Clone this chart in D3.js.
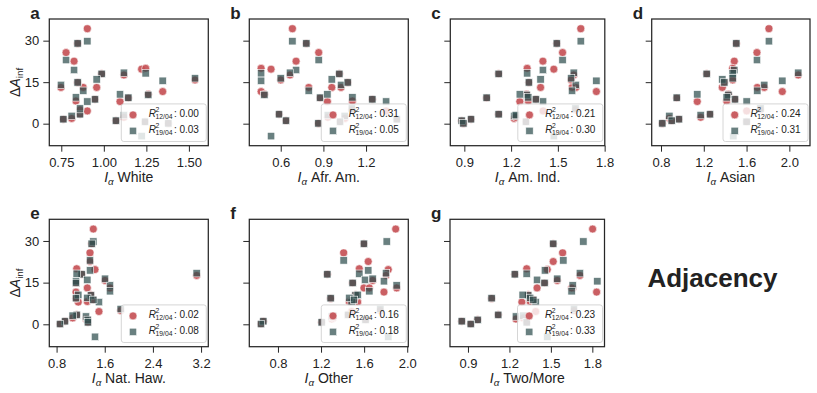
<!DOCTYPE html>
<html><head><meta charset="utf-8">
<script src="https://cdn.jsdelivr.net/npm/d3@7"></script>
<style>
body{margin:0;background:#fff}
svg{display:block}
text{font-family:"Liberation Sans",Arial,sans-serif;fill:#222}
</style>
</head><body>
<svg id="c" width="817" height="393"></svg>
<script>
// ---- data: one entry per place (same order in every array) ----
const y2012 = [34.3, 29.0, 25.7, 22.6, 19.7, 18.0, 17.6, 20.0, 13.1, 13.1, 13.1, 11.6, 10.6, 8.0, 4.6, 8.2, 1.9, 15.8, 9.3, 3.4, 5.0, 1.6, 14.9, 8.8, 1.1, 2.3, 0.7, 0.1];
const y2019 = [29.8, 29.0, 23.0, 19.4, -4.5, 18.0, 18.4, 18.2, 14.0, 16.0, 11.9, 15.5, 10.4, 10.6, 8.0, 9.5, 2.8, 16.4, 9.4, 3.4, 5.5, 1.6, 14.9, 8.8, 1.1, 3.1, 0.7, 0.1];

const xWhite  = [0.903, 0.846, 0.778, 0.825, 1.222, 0.987, 1.118, 1.246, 0.748, 0.958, 0.879, 1.346, 1.261, 1.095, 0.903, 0.836, 0.811, 1.536, 1.144, 0.860, 0.860, 0.762, 0.846, 0.948, 1.071, 1.118, 1.242, 1.379];
const xAfrAm  = [0.682, 0.780, 0.867, 0.708, 0.532, 1.012, 0.665, 0.462, 1.024, 0.959, 0.797, 0.462, 0.485, 0.928, 1.341, 1.104, 1.050, 0.600, 0.876, 0.588, 1.100, 1.416, 1.071, 1.244, 0.637, 0.931, 1.017, 0.865];
const xAmInd  = [1.647, 1.493, 1.530, 1.404, 1.474, 1.120, 1.602, 1.303, 1.615, 1.389, 1.591, 1.747, 1.300, 1.256, 1.405, 1.310, 1.220, 1.585, 1.043, 1.120, 1.613, 0.943, 1.314, 1.359, 0.883, 1.230, 1.295, 0.894];
const xAsian  = [1.809, 1.504, 1.697, 1.485, 1.476, 1.227, 2.083, 1.470, 1.765, 1.373, 1.700, 1.934, 1.430, 1.139, 1.601, 1.414, 0.878, 1.470, 0.947, 1.258, 1.730, 0.968, 1.392, 1.492, 0.900, 1.171, 1.600, 0.812];
const xNatHaw = [1.410, 1.383, 1.355, 1.355, 1.438, 1.217, 3.127, 1.134, 1.687, 1.310, 1.687, 1.122, 1.371, 1.160, 1.504, 1.310, 1.288, 1.604, 1.122, 1.134, 1.865, 1.316, 1.122, 1.410, 0.940, 1.067, 1.320, 0.856];
const xOther2012 = [1.893, 1.598, 1.410, 1.638, 1.824, 1.258, 1.803, 1.555, 1.902, 1.598, 1.648, 1.784, 1.520, 1.540, 1.484, 1.462, 1.300, 1.679, 1.289, 1.450, 1.750, 1.613, 1.493, 1.506, 0.664, 1.313, 1.206, 0.642];
const xOther2019 = [1.810, 1.598, 1.410, 1.638, 1.824, 1.258, 1.803, 1.555, 1.902, 1.608, 1.648, 1.784, 1.520, 1.540, 1.484, 1.462, 1.300, 1.679, 1.289, 1.450, 1.750, 1.613, 1.493, 1.506, 0.664, 1.313, 1.206, 0.642];
const xTwo2012 = [1.802, 1.517, 1.585, 1.517, 1.474, 1.239, 1.710, 1.325, 1.658, 1.400, 1.650, 1.831, 1.336, 1.290, 1.390, 1.350, 1.247, 1.546, 1.071, 1.119, 1.667, 0.970, 1.454, 1.373, 0.855, 1.300, 1.325, 0.920];
const xTwo2019 = [1.735, 1.517, 1.590, 1.457, 1.474, 1.239, 1.710, 1.325, 1.658, 1.400, 1.650, 1.836, 1.336, 1.296, 1.390, 1.350, 1.247, 1.546, 1.071, 1.119, 1.667, 0.970, 1.454, 1.373, 0.855, 1.300, 1.325, 0.920];

const panelLetters = ["a", "b", "c", "d", "e", "f", "g"];
const groupNames = ["White", "Afr. Am.", "Am. Ind.", "Asian", "Nat. Haw.", "Other", "Two/More"];
const r2_2012 = [0.00, 0.31, 0.21, 0.24, 0.02, 0.16, 0.23];
const r2_2019 = [0.03, 0.05, 0.30, 0.31, 0.08, 0.18, 0.33];
const yTicks = [0, 15, 30];
const xTicksWhite = [0.75, 1.00, 1.25, 1.50];
const xTicksAfrAm = [0.6, 0.9, 1.2];
const xTicksAmInd = [0.9, 1.2, 1.5, 1.8];
const xTicksAsian = [0.8, 1.2, 1.6, 2.0];
const xTicksNatHaw = [0.8, 1.6, 2.4, 3.2];
const xTicksOther = [0.8, 1.2, 1.6, 2.0];
const xTicksTwo = [0.9, 1.2, 1.5, 1.8];

// ---- layout ----
const series12 = [xWhite, xAfrAm, xAmInd, xAsian, xNatHaw, xOther2012, xTwo2012];
const series19 = [xWhite, xAfrAm, xAmInd, xAsian, xNatHaw, xOther2019, xTwo2019];
const tickSets = [xTicksWhite, xTicksAfrAm, xTicksAmInd, xTicksAsian, xTicksNatHaw, xTicksOther, xTicksTwo];
const tickFmts = [".2f", ".1f", ".1f", ".1f", ".1f", ".1f", ".1f"];
const layout = [
  {left: 49.3, right: 208.3, row: 0, dom: [0.6795, 1.614]},
  {left: 249.3, right: 408.3, row: 0, dom: [0.379, 1.497]},
  {left: 450.3, right: 604.8, row: 0, dom: [0.81, 1.801]},
  {left: 651.7, right: 810.0, row: 0, dom: [0.713, 2.193]},
  {left: 49.3, right: 208.3, row: 1, dom: [0.679, 3.32]},
  {left: 249.3, right: 408.3, row: 1, dom: [0.534, 2.01]},
  {left: 450.0, right: 604.5, row: 1, dom: [0.770, 1.888]}
];
const rows = [
  {top: 19, bottom: 145.7, dom: [-7.96, 37.83]},
  {top: 219.3, bottom: 346.7, dom: [-8.06, 37.8]}
];
const RED = "#c44e52", SQ = "#2f4f4f", INK = "#262626";

const svg = d3.select("#c");
const defs = svg.append("defs");

function drawR2(g, x, y, sub, val) {
  g.append("text").attr("x", x).attr("y", y).attr("font-size", 10).attr("font-style", "italic").text("R");
  g.append("text").attr("x", x + 6.8).attr("y", y - 4.6).attr("font-size", 6.8).text("2");
  g.append("text").attr("x", x + 6.8).attr("y", y + 2.6).attr("font-size", 6.8).text(sub);
  g.append("text").attr("x", x + 25.2).attr("y", y).attr("font-size", 10).text(": " + d3.format(".2f")(val));
}

layout.forEach((L, i) => {
  const R = rows[L.row];
  const x = d3.scaleLinear().domain(L.dom).range([L.left, L.right]);
  const y = d3.scaleLinear().domain(R.dom).range([R.bottom, R.top]);
  const g = svg.append("g");

  defs.append("clipPath").attr("id", "clip" + i)
    .append("rect").attr("x", L.left).attr("y", R.top)
    .attr("width", L.right - L.left).attr("height", R.bottom - R.top);

  const pts = g.append("g").attr("clip-path", `url(#clip${i})`);
  const idx = d3.range(y2012.length);
  const xs12 = series12[i], xs19 = series19[i];
  pts.selectAll("circle").data(idx).join("circle")
    .attr("cx", j => x(xs12[j])).attr("cy", j => y(y2012[j])).attr("r", 4)
    .attr("fill", RED).attr("fill-opacity", 0.9)
    .attr("stroke", "#fff").attr("stroke-width", 0.6);
  const s = 7.4;
  pts.selectAll("rect").data(idx).join("rect")
    .attr("x", j => x(xs19[j]) - s / 2).attr("y", j => y(y2019[j]) - s / 2)
    .attr("width", s).attr("height", s)
    .attr("fill", SQ).attr("fill-opacity", 0.72)
    .attr("stroke", "#fff").attr("stroke-width", 0.6);

  // frame
  g.append("rect").attr("x", L.left).attr("y", R.top)
    .attr("width", L.right - L.left).attr("height", R.bottom - R.top)
    .attr("fill", "none").attr("stroke", INK).attr("stroke-width", 1.25);

  // x axis
  const xa = g.append("g").attr("transform", `translate(0,${R.bottom})`)
    .call(d3.axisBottom(x).tickValues(tickSets[i]).tickSize(6).tickPadding(5.8).tickFormat(d3.format(tickFmts[i])));
  xa.select(".domain").remove();
  xa.selectAll("line").attr("stroke", INK).attr("stroke-width", 1);
  xa.selectAll("text").attr("font-size", 13).attr("font-family", "Liberation Sans, Arial, sans-serif").attr("fill", "#222");

  // y axis
  const ya = g.append("g").attr("transform", `translate(${L.left},0)`)
    .call(d3.axisLeft(y).tickValues(yTicks).tickSize(6).tickPadding(4)
      .tickFormat(L.left < 100 ? d3.format("d") : () => ""));
  ya.select(".domain").remove();
  ya.selectAll("line").attr("stroke", INK).attr("stroke-width", 1);
  ya.selectAll("text").attr("font-size", 13).attr("font-family", "Liberation Sans, Arial, sans-serif").attr("fill", "#222");

  // x label
  const cx = (L.left + L.right) / 2;
  const xl = g.append("text").attr("x", cx).attr("y", R.bottom + 36.3)
    .attr("text-anchor", "middle").attr("font-size", 14);
  xl.append("tspan").attr("font-style", "italic").text("I");
  xl.append("tspan").attr("font-style", "italic").attr("font-size", 9.8).attr("dy", 3).text("α");
  xl.append("tspan").attr("dy", -3).text(" " + groupNames[i]);

  // y label
  if (L.left < 100) {
    const cy = (R.top + R.bottom) / 2;
    const yl = g.append("text").attr("transform", `translate(20,${cy}) rotate(-90)`)
      .attr("text-anchor", "middle").attr("font-size", 14);
    yl.append("tspan").text("Δ");
    yl.append("tspan").attr("font-style", "italic").text("A");
    yl.append("tspan").attr("font-size", 9.8).attr("dy", 3).text("inf");
  }

  // panel letter
  g.append("text").attr("x", L.left - 19).attr("y", R.top - 0.5)
    .attr("font-size", 17).attr("font-weight", "bold").text(panelLetters[i]);

  // legend
  const bw = 85, bh = 37.6;
  const bx = L.right - 2 - bw, by = R.bottom - 4.2 - bh;
  const lg = g.append("g");
  lg.append("rect").attr("x", bx).attr("y", by).attr("width", bw).attr("height", bh)
    .attr("rx", 2.5).attr("fill", "#fff").attr("fill-opacity", 0.8)
    .attr("stroke", "#cccccc").attr("stroke-width", 0.8);
  lg.append("circle").attr("cx", bx + 11.7).attr("cy", by + 11).attr("r", 4)
    .attr("fill", RED).attr("fill-opacity", 0.9).attr("stroke", "#fff").attr("stroke-width", 0.6);
  lg.append("rect").attr("x", bx + 11.7 - s / 2).attr("y", by + 27 - s / 2).attr("width", s).attr("height", s)
    .attr("fill", SQ).attr("fill-opacity", 0.72).attr("stroke", "#fff").attr("stroke-width", 0.6);
  drawR2(lg, bx + 27.4, by + 12.7, "12/04", r2_2012[i]);
  drawR2(lg, bx + 27.4, by + 28.7, "19/04", r2_2019[i]);
});

svg.append("text").attr("x", 712.5).attr("y", 287).attr("text-anchor", "middle")
  .attr("font-size", 26).attr("font-weight", "bold").text("Adjacency");
</script>
</body></html>
